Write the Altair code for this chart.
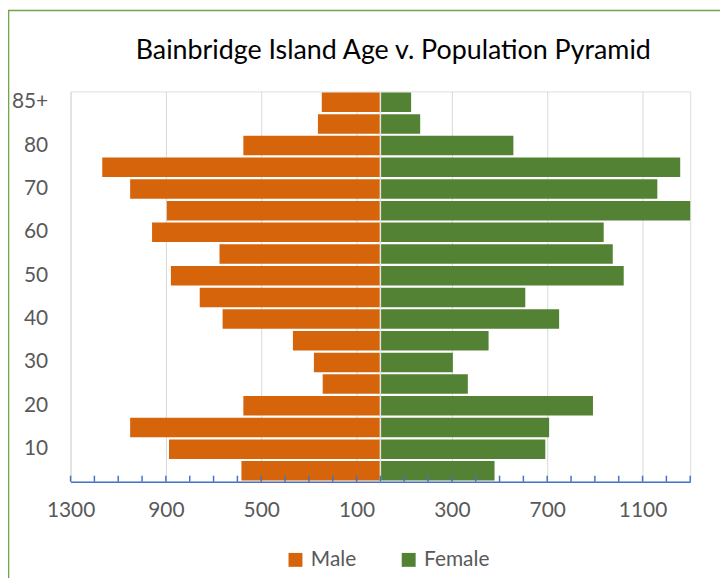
import altair as alt
import pandas as pd

# ---- data (top row first) ----
age_groups = ["85+", "85", "80", "75", "70", "65", "60", "55", "50",
              "45", "40", "35", "30", "25", "20", "15", "10", "5"]
male = [246, 262, 575, 1167, 1050, 896, 958, 675, 879,
        758, 662, 367, 279, 242, 575, 1050, 887, 583]
female = [129, 167, 558, 1258, 1162, 1300, 937, 975, 1021,
          608, 750, 454, 304, 367, 892, 708, 692, 479]
shown_age_labels = ["85+", "80", "70", "60", "50", "40", "30", "20", "10"]
x_label_values = [-1300, -900, -500, -100, 300, 700, 1100]
x_tick_values = [-1300, -1200, -1100, -1000, -900, -800, -700, -600, -500, -400,
                 -300, -200, -100, 0, 100, 200, 300, 400, 500, 600, 700, 800,
                 900, 1000, 1100, 1200, 1300]
series = ["Male", "Female"]
colors = ["#D6640A", "#548235"]
title_text = "Bainbridge Island Age v. Population Pyramid"

rows = []
for a, m, f in zip(age_groups, male, female):
    rows.append({"age": a, "sex": "Male", "value": -m})
    rows.append({"age": a, "sex": "Female", "value": f})
df = pd.DataFrame(rows)

W, H = 624, 393
FONT = "Lato"

x_scale = alt.Scale(domain=[-1300, 1300], nice=False, zero=False)
x_axis = alt.Axis(values=x_label_values, labelExpr="format(abs(datum.value), 'd')",
                  grid=True, gridColor="#D9D9D9", gridWidth=1,
                  ticks=False, domain=True, domainColor="#4472C4", domainWidth=1.5,
                  labelFontSize=21, labelColor="#595959", labelFont=FONT,
                  labelFlush=False, labelOverlap=False,
                  labelPadding=18, title=None)

label_js = "[" + ",".join("'%s'" % s for s in shown_age_labels) + "]"

border = alt.Chart(alt.Data(values=[{}])).mark_rect(
    fill=None, fillOpacity=0, stroke="#70A54A", strokeWidth=1.6, clip=False
).encode(x=alt.value(-62.5), y=alt.value(-81.5), x2=alt.value(W + 200), y2=alt.value(H + 300))

title = alt.Chart(alt.Data(values=[{"t": title_text}])).mark_text(
    font=FONT, fontSize=27, color="#000000", align="center", baseline="alphabetic"
).encode(text="t:N", x=alt.value(325), y=alt.value(-33))

bars = alt.Chart(df).mark_bar().encode(
    x=alt.X("value:Q", scale=x_scale, axis=x_axis),
    y=alt.Y("age:N", sort=age_groups,
            scale=alt.Scale(paddingInner=0.1, paddingOuter=0.05),
            axis=alt.Axis(labelExpr="indexof(" + label_js + ", datum.value) >= 0 ? datum.value : ''",
                          ticks=False, domain=False, grid=False,
                          labelFontSize=21, labelColor="#595959", labelFont=FONT,
                          labelPadding=23, title=None)),
    color=alt.Color("sex:N", scale=alt.Scale(domain=series, range=colors),
                    legend=alt.Legend(orient="none", legendX=216, legendY=461,
                                      direction="horizontal", title=None,
                                      symbolType="square", symbolSize=196,
                                      symbolStrokeWidth=0, labelFontSize=21,
                                      labelFont=FONT, labelColor="#595959",
                                      labelOffset=5, columnPadding=42, padding=0)),
)

center = alt.Chart(alt.Data(values=[{"v": 0}])).mark_rule(
    color="#E0E0E0", strokeWidth=1.5
).encode(x=alt.X("v:Q", scale=x_scale, axis=x_axis))

ticks = alt.Chart(pd.DataFrame({"value": x_tick_values})).mark_rule(
    color="#4472C4", strokeWidth=1.5
).encode(x=alt.X("value:Q", scale=x_scale, axis=x_axis),
         y=alt.value(H - 6), y2=alt.value(H))

chart = alt.layer(border, title, bars, center, ticks).properties(
    width=W, height=H,
    autosize=alt.AutoSizeParams(type="none"),
    padding={"left": 63, "top": 82, "right": 30, "bottom": 95},
).configure_view(stroke=None).configure(background="white")

chart.save("out.html", embed_options={"renderer": "svg", "actions": False})
